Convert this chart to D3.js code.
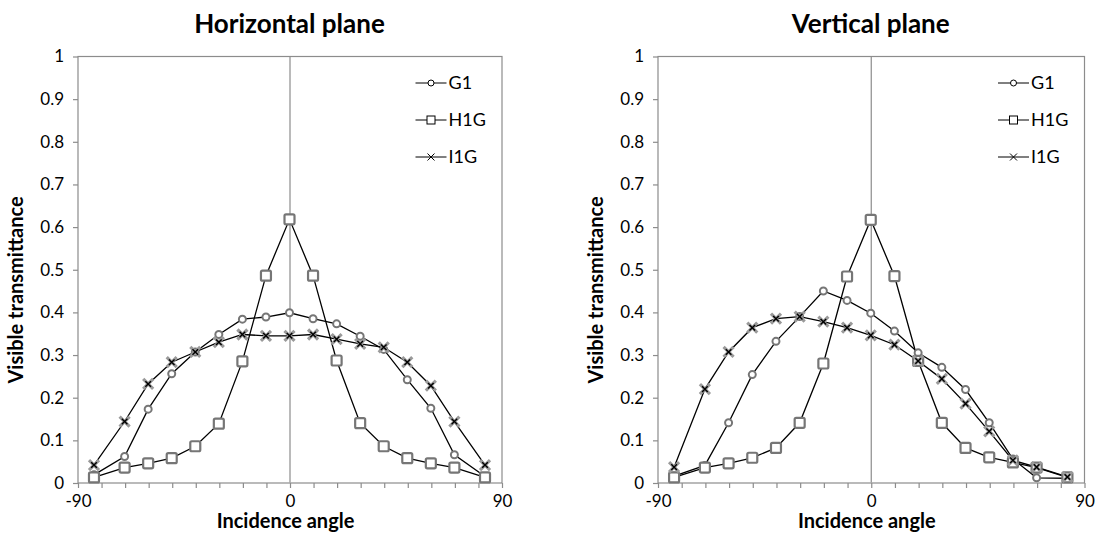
<!DOCTYPE html>
<html lang="en">
  <head>
    <meta charset="utf-8"/>
    <script src="https://d3js.org/d3.v7.min.js"></script>
    <title>Visible transmittance</title>
    <style>
      body { margin: 0; background: #fff; }
      text { font-family: Lato, "Open Sans", sans-serif; fill: #000; }
    </style>
  </head>
  <body>
    <svg id="svg_main"></svg>

    <script>
      const width = 1097;
      const height = 533;

      // incidence angles (deg)
      const angles = [-83, -70, -60, -50, -40, -30, -20, -10, 0, 10, 20, 30, 40, 50, 60, 70, 83];

      // horizontal plane
      const hG1  = [0.018, 0.061, 0.172, 0.255, 0.306, 0.347, 0.383, 0.388, 0.398, 0.384, 0.372, 0.343, 0.312, 0.241, 0.174, 0.065, 0.014];
      const hH1G = [0.012, 0.035, 0.045, 0.057, 0.085, 0.138, 0.284, 0.485, 0.617, 0.485, 0.286, 0.139, 0.085, 0.057, 0.045, 0.035, 0.012];
      const hI1G = [0.041, 0.143, 0.231, 0.282, 0.306, 0.329, 0.347, 0.344, 0.344, 0.347, 0.336, 0.325, 0.317, 0.282, 0.227, 0.143, 0.041];

      // vertical plane
      const vG1  = [0.015, 0.040, 0.140, 0.253, 0.331, 0.389, 0.449, 0.427, 0.397, 0.355, 0.304, 0.270, 0.218, 0.140, 0.055, 0.011, 0.010];
      const vH1G = [0.012, 0.035, 0.045, 0.058, 0.081, 0.140, 0.279, 0.483, 0.616, 0.484, 0.285, 0.140, 0.081, 0.059, 0.047, 0.035, 0.012];
      const vI1G = [0.036, 0.219, 0.306, 0.363, 0.384, 0.389, 0.377, 0.363, 0.345, 0.323, 0.285, 0.243, 0.185, 0.120, 0.052, 0.036, 0.013];

      const seriesNames = ["G1", "H1G", "I1G"];
      const seriesMarks = ["circle", "square", "cross"];
      const yTickValues = [0, 0.1, 0.2, 0.3, 0.4, 0.5, 0.6, 0.7, 0.8, 0.9, 1];
      const xTickValues = [-90, -80, -70, -60, -50, -40, -30, -20, -10, 0, 10, 20, 30, 40, 50, 60, 70, 80, 90];
      const xTickLabels = [-90, 0, 90];

      const axisGrey = "#8c8c8c";
      const markGrey = "#767676";

      let svg = d3.select("#svg_main")
          .attr("width", width)
          .attr("height", height);

      function drawMarker(g, type, x, y, legend) {
        if (type == "circle") {
          g.append("circle")
              .attr("cx", x).attr("cy", y)
              .attr("r", legend ? 3 : 3.5)
              .attr("fill", "#fff")
              .attr("stroke", legend ? "#000" : markGrey)
              .attr("stroke-width", legend ? 1 : 2);
        } else if (type == "square") {
          let s = legend ? 8 : 10;
          g.append("rect")
              .attr("x", x - s / 2).attr("y", y - s / 2)
              .attr("width", s).attr("height", s)
              .attr("rx", legend ? 0 : 1.5)
              .attr("fill", "#fff")
              .attr("stroke", legend ? "#000" : markGrey)
              .attr("stroke-width", legend ? 1 : 2.2);
        } else {
          let s = legend ? 3.5 : 5;
          let p = "M" + (x - s) + "," + (y - s) + "L" + (x + s) + "," + (y + s) +
                  "M" + (x - s) + "," + (y + s) + "L" + (x + s) + "," + (y - s);
          if (!legend) {
            g.append("path").attr("d", p)
                .attr("stroke", "#9a9a9a").attr("stroke-width", 3.2).attr("fill", "none");
          }
          let s2 = legend ? 3.5 : 2.8;
          let p2 = "M" + (x - s2) + "," + (y - s2) + "L" + (x + s2) + "," + (y + s2) +
                   "M" + (x - s2) + "," + (y + s2) + "L" + (x + s2) + "," + (y - s2);
          g.append("path").attr("d", p2)
              .attr("stroke", "#000").attr("stroke-width", legend ? 1 : 1.4).attr("fill", "none");
        }
      }

      function drawChart(opt) {
        let g = svg.append("g");

        let xScale = d3.scaleLinear().domain([-90, 90]).range([opt.left, opt.right]);
        let yScale = d3.scaleLinear().domain([0, 1]).range([482.5, 56]);

        // title
        g.append("text")
            .attr("x", (opt.left + opt.right) / 2)
            .attr("y", 33)
            .attr("text-anchor", "middle")
            .style("font-size", "26px")
            .style("font-weight", "bold")
            .text(opt.title);

        // plot border
        g.append("rect")
            .attr("x", opt.left + 0.5).attr("y", yScale(1) + 0.5)
            .attr("width", opt.right - opt.left).attr("height", yScale(0) - yScale(1))
            .attr("fill", "none").attr("stroke", axisGrey).attr("stroke-width", 1.2);

        // vertical axis at 0
        g.append("line")
            .attr("x1", xScale(0) + 0.5).attr("x2", xScale(0) + 0.5)
            .attr("y1", yScale(1)).attr("y2", yScale(0))
            .attr("stroke", axisGrey).attr("stroke-width", 1.2);

        // y axis (left)
        let yAxis = d3.axisLeft(yScale)
            .tickValues(yTickValues)
            .tickSize(5)
            .tickPadding(9)
            .tickFormat(d3.format("~g"));
        let yAxis_g = g.append("g")
            .attr("transform", "translate(" + (opt.left + 0.5) + ",0.5)")
            .call(yAxis);
        yAxis_g.select(".domain").remove();
        yAxis_g.selectAll("line").attr("stroke", axisGrey).attr("stroke-width", 1.2);
        yAxis_g.selectAll("text").style("font-size", "17px").style("font-family", "Lato");

        // x axis (bottom)
        let xAxis = d3.axisBottom(xScale)
            .tickValues(xTickValues)
            .tickSize(5)
            .tickFormat(function(d) { return xTickLabels.indexOf(d) >= 0 ? d : ""; });
        let xAxis_g = g.append("g")
            .attr("transform", "translate(0.5," + (yScale(0) + 0.5) + ")")
            .call(xAxis);
        xAxis_g.select(".domain").remove();
        xAxis_g.selectAll("line").attr("stroke", axisGrey).attr("stroke-width", 1.2);
        xAxis_g.selectAll("text")
            .attr("y", 12)
            .style("font-size", "17px").style("font-family", "Lato");

        // axis titles
        g.append("text")
            .attr("x", xScale(0) - 4)
            .attr("y", 528)
            .attr("text-anchor", "middle")
            .style("font-size", "20px")
            .style("font-weight", "bold")
            .text("Incidence angle");

        g.append("text")
            .attr("transform", "translate(" + (opt.left - 55) + ",290) rotate(-90)")
            .attr("text-anchor", "middle")
            .style("font-size", "20px")
            .style("font-weight", "bold")
            .text("Visible transmittance");

        // series
        let line = d3.line()
            .x(function(d) { return xScale(d[0]); })
            .y(function(d) { return yScale(d[1]); });

        opt.series.forEach(function(vals, k) {
          let pts = angles.map(function(a, i) { return [a, vals[i]]; });
          g.append("path")
              .datum(pts)
              .attr("fill", "none")
              .attr("stroke", "#000")
              .attr("stroke-width", 1.3)
              .attr("d", line);
        });
        opt.series.forEach(function(vals, k) {
          let mg = g.append("g");
          angles.forEach(function(a, i) {
            drawMarker(mg, seriesMarks[k], xScale(a), yScale(vals[i]), false);
          });
        });

        // legend
        seriesNames.forEach(function(name, k) {
          let ly = 83 + k * 37;
          let lx = opt.right - 86;
          g.append("line")
              .attr("x1", lx).attr("x2", lx + 31)
              .attr("y1", ly).attr("y2", ly)
              .attr("stroke", "#000").attr("stroke-width", 1);
          drawMarker(g, seriesMarks[k], lx + 15.5, ly, true);
          g.append("text")
              .attr("x", lx + 33)
              .attr("y", ly + 6)
              .style("font-size", "18px")
              .text(name);
        });
      }

      drawChart({ left: 77.5, right: 501.5, title: "Horizontal plane", series: [hG1, hH1G, hI1G] });
      drawChart({ left: 657.5, right: 1084, title: "Vertical plane", series: [vG1, vH1G, vI1G] });
    </script>
  </body>
</html>
